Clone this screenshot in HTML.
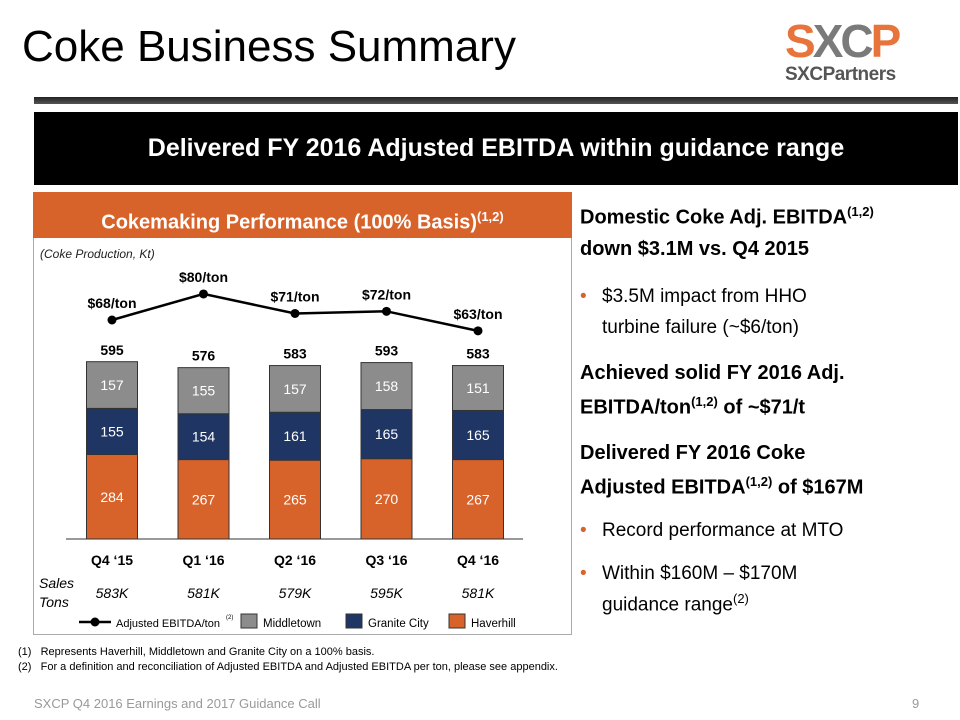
<!DOCTYPE html>
<html><head><meta charset="utf-8"><style>
body{margin:0;width:960px;height:720px;background:#fff;font-family:"Liberation Sans",sans-serif;position:relative;overflow:hidden}
.a{position:absolute}
.ln{position:absolute;left:580px;white-space:nowrap;color:#000}
.b{font-weight:bold;font-size:20px}
.n{font-size:19px;left:602px}
.dot{position:absolute;left:580px;color:#d8632a;font-size:19px}
sup{font-size:13px}
</style></head><body>
<div class="a" style="left:22px;top:22px;font-size:44px;color:#000">Coke Business Summary</div>
<div class="a" style="left:785px;top:18px;width:150px;height:70px">
 <div class="a" style="left:0;top:-4px;font-size:46px;font-weight:bold;letter-spacing:-3px"><span style="color:#e8743b">S</span><span style="color:#7a7a7a">X</span><span style="color:#7a7a7a">C</span><span style="color:#e8743b">P</span></div>
 <div class="a" style="left:0;top:46px;font-size:19px;font-weight:bold;color:#555;letter-spacing:-0.5px">SXCPartners</div>
</div>
<div class="a" style="left:34px;top:97px;width:924px;height:7px;background:linear-gradient(#222,#555)"></div>
<div class="a" style="left:34px;top:112px;width:924px;height:73px;background:#000;color:#fff;font-weight:bold;font-size:25px;text-align:center;line-height:73px">Delivered FY 2016 Adjusted EBITDA within guidance range</div>
<div class="a" style="left:33px;top:192px;width:539px;height:443px;border:1px solid #aaa;box-sizing:border-box"></div>
<div class="a" style="left:33px;top:192px;width:539px;height:46px;background:#d8632a;color:#fff;font-weight:bold;font-size:20px;text-align:center;line-height:50px">Cokemaking Performance (100% Basis)<sup style="font-size:13px">(1,2)</sup></div>
<svg class="a" style="left:0;top:0" width="960" height="720">
<text x="40" y="258" font-size="12" font-style="italic" fill="#222">(Coke Production, Kt)</text>
<g id="g"></g>
</svg>
<div>
<div class="ln b" style="top:204px">Domestic Coke Adj. EBITDA<sup>(1,2)</sup></div>
<div class="ln b" style="top:238px">down $3.1M vs. Q4 2015</div>
<div class="dot" style="top:286px">•</div>
<div class="ln n" style="top:286px">$3.5M impact from HHO</div>
<div class="ln n" style="top:317px">turbine failure (~$6/ton)</div>
<div class="ln b" style="top:362px">Achieved solid FY 2016 Adj.</div>
<div class="ln b" style="top:394px">EBITDA/ton<sup>(1,2)</sup> of ~$71/t</div>
<div class="ln b" style="top:442px">Delivered FY 2016 Coke</div>
<div class="ln b" style="top:474px">Adjusted EBITDA<sup>(1,2)</sup> of $167M</div>
<div class="dot" style="top:520px">•</div>
<div class="ln n" style="top:520px">Record performance at MTO</div>
<div class="dot" style="top:563px">•</div>
<div class="ln n" style="top:563px">Within $160M – $170M</div>
<div class="ln n" style="top:591px">guidance range<sup>(2)</sup></div>
</div>
<div class="a" style="left:18px;top:645px;font-size:11px;line-height:15px;color:#000">
<div>(1)&nbsp;&nbsp;&nbsp;Represents Haverhill, Middletown and Granite City on a 100% basis.</div>
<div>(2)&nbsp;&nbsp;&nbsp;For a definition and reconciliation of Adjusted EBITDA and Adjusted EBITDA per ton, please see appendix.</div>
</div>
<div class="a" style="left:34px;top:696px;font-size:13px;color:#999">SXCP Q4 2016 Earnings and 2017 Guidance Call</div>
<div class="a" style="left:912px;top:696px;font-size:13px;color:#999">9</div>
<script>
const categories=["Q4 ‘15","Q1 ‘16","Q2 ‘16","Q3 ‘16","Q4 ‘16"];
const haverhill=[284,267,265,270,267];
const granite=[155,154,161,165,165];
const middletown=[157,155,157,158,151];
const totals=[595,576,583,593,583];
const ebitda=[68,80,71,72,63];
const salesTons=["583K","581K","579K","595K","581K"];
const NS="http://www.w3.org/2000/svg";
const g=document.getElementById('g');
const base=539,scale=0.2975;
const xc=i=>112+i*91.5;
const yb=v=>base-v*scale;
const yl=v=>320-(v-68)*2.17;
function mk(t,a,txt){const e=document.createElementNS(NS,t);for(const k in a)e.setAttribute(k,a[k]);if(txt!==undefined)e.textContent=txt;g.appendChild(e);return e;}
const cols=["#d8632a","#1f3564","#8c8c8c"];
const names=["haverhill","granite-city","middletown"];
categories.forEach((c,i)=>{
  const segs=[haverhill[i],granite[i],middletown[i]];let acc=0;
  segs.forEach((v,j)=>{
    const r=mk('rect',{x:xc(i)-25.5,y:yb(acc+v),width:51,height:v*scale,fill:cols[j],stroke:'#333','stroke-width':1});
    
    
    const t=mk('text',{x:xc(i),y:yb(acc+v/2)+5,'text-anchor':'middle','font-size':14,fill:'#fff'},v);
    
    
    acc+=v;
  });
  const tt=mk('text',{x:xc(i),y:yb(totals[i])-7,'text-anchor':'middle','font-size':14,'font-weight':'bold'},totals[i]);
  
  
  const cl=mk('text',{x:xc(i),y:565,'text-anchor':'middle','font-size':14,'font-weight':'bold'},c);
  
  
  const sl=mk('text',{x:xc(i),y:598,'text-anchor':'middle','font-size':14,'font-style':'italic'},salesTons[i]);
  
  
});
const ax=mk('line',{x1:66,x2:523,y1:base,y2:base,stroke:'#333','stroke-width':1});


const pl=mk('polyline',{points:ebitda.map((v,i)=>xc(i)+','+yl(v)).join(' '),fill:'none',stroke:'#000','stroke-width':2.5});


ebitda.forEach((v,i)=>{
  const p=mk('circle',{cx:xc(i),cy:yl(v),r:4.5,fill:'#000'});
  
  
  const t=mk('text',{x:xc(i),y:yl(v)-12,'text-anchor':'middle','font-size':14,'font-weight':'bold'},'$'+v+'/ton');
  
  
});
const s1=mk('text',{x:39,y:588,'font-size':14,'font-style':'italic'},'Sales');


mk('text',{x:39,y:607,'font-size':14,'font-style':'italic'},'Tons');
const lg=mk('line',{x1:79,x2:111,y1:622,y2:622,stroke:'#000','stroke-width':2.5});


mk('circle',{cx:95,cy:622,r:4.5,fill:'#000'});
mk('text',{x:116,y:627,'font-size':11},'Adjusted EBITDA/ton');
mk('text',{x:226,y:619,'font-size':6},'(2)');
[[241,'#8c8c8c','Middletown'],[346,'#1f3564','Granite City'],[449,'#d8632a','Haverhill']].forEach(([x,c,n])=>{
  const r=mk('rect',{x:x,y:614,width:16,height:14,fill:c,stroke:'#333'});
  
  
  mk('text',{x:x+22,y:627,'font-size':11.5},n);
});
</script>
</body></html>
